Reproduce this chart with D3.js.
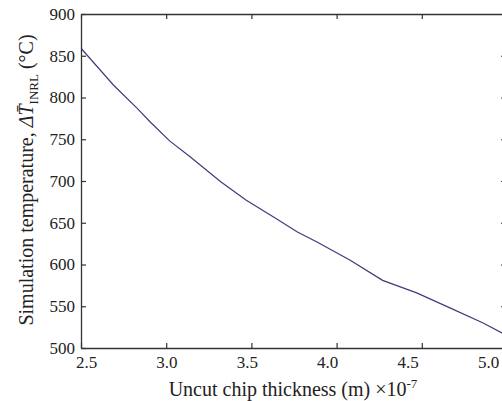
<!DOCTYPE html>
<html>
<head>
<meta charset="utf-8">
<script src="https://cdn.jsdelivr.net/npm/d3@7"></script>
<style>
  body { margin: 0; background: #fff; }
  svg { display: block; font-family: "Liberation Serif", "Times New Roman", serif; }
</style>
</head>
<body>
<svg id="chart" width="502" height="401"></svg>
<script>
// uncut chip thickness (x 1e-7 m) and simulated temperature (°C)
let thickness = [2.5, 2.69, 2.83, 2.905, 3.02, 3.14, 3.32, 3.47, 3.63, 3.77, 3.885, 4.08, 4.27, 4.47, 4.665, 4.86, 4.97, 5.05];
let temperature = [859, 815, 787, 771, 748, 729, 699, 677, 657, 639, 627, 605, 581, 566, 548, 530, 518, 511];
let xTicks = [2.5, 3.0, 3.5, 4.0, 4.5, 5.0];
let yTicks = [500, 550, 600, 650, 700, 750, 800, 850, 900];

let svg = d3.select('#chart');
let plotLeft = 81, plotTop = 14, plotRight = 506, plotBottom = 348;

let x = d3.scaleLinear().domain([2.5, 5.0]).range([plotLeft, 507]);
let y = d3.scaleLinear().domain([500, 900]).range([plotBottom, plotTop]);
// tick labels in the figure sit a bit left of their ticks toward the right end
let xLab = d3.scaleLinear().domain([2.5, 5.0]).range([86, 488]);

let data = thickness.map((d, i) => ({x: d, y: temperature[i]}));

let frameColor = '#333';

// clip for the curve
svg.append('clipPath').attr('id', 'clip')
	.append('rect').attr('x', plotLeft).attr('y', plotTop).attr('width', plotRight - plotLeft).attr('height', plotBottom - plotTop);

svg.append('path')
	.datum(data)
	.attr('clip-path', 'url(#clip)')
	.attr('fill', 'none')
	.attr('stroke', '#3d3d7c')
	.attr('stroke-width', 1.2)
	.attr('d', d3.line().x(d => x(d.x)).y(d => y(d.y)));

// axes, ticks pointing inward
let xAxis = svg.append('g')
	.attr('transform', `translate(0,${plotBottom})`)
	.call(d3.axisBottom(x).tickValues(xTicks).tickFormat(d3.format('.1f')).tickSizeInner(-5).tickSizeOuter(0).tickPadding(8));
xAxis.selectAll('text').attr('x', d => xLab(d) - x(d));

svg.append('g')
	.attr('transform', `translate(0,${plotTop})`)
	.call(d3.axisTop(x).tickValues(xTicks).tickFormat('').tickSizeInner(-5).tickSizeOuter(0));

svg.append('g')
	.attr('transform', `translate(${plotLeft},0)`)
	.call(d3.axisLeft(y).tickValues(yTicks).tickSizeInner(-5).tickSizeOuter(0).tickPadding(6));

svg.append('g')
	.attr('transform', `translate(${plotRight},0)`)
	.call(d3.axisRight(y).tickValues(yTicks).tickFormat('').tickSizeInner(-5).tickSizeOuter(0));

svg.selectAll('.domain').attr('stroke', frameColor).attr('stroke-width', 1.3);
svg.selectAll('.tick line').attr('stroke', frameColor).attr('stroke-width', 1.2);
svg.selectAll('.tick text')
	.attr('fill', '#222')
	.style('font-family', '"Liberation Serif", serif')
	.style('font-size', '17px');

// axis titles
svg.append('text')
	.attr('x', 293)
	.attr('y', 396)
	.attr('text-anchor', 'middle')
	.attr('fill', '#222')
	.style('font-size', '20px')
	.text('Uncut chip thickness (m) \u00d710')
	.append('tspan')
	.attr('dy', -8)
	.style('font-size', '13px')
	.text('-7');

let yTitle = svg.append('text')
	.attr('transform', 'translate(33,180) rotate(-90)')
	.attr('text-anchor', 'middle')
	.attr('fill', '#222')
	.style('font-size', '20px');
yTitle.append('tspan').text('Simulation temperature, ');
yTitle.append('tspan').style('font-style', 'italic').text('\u0394T\u0304');
yTitle.append('tspan').attr('dy', 5).style('font-size', '13px').text('INRL');
yTitle.append('tspan').attr('dy', -5).text(' (\u00b0C)');
</script>
</body>
</html>
